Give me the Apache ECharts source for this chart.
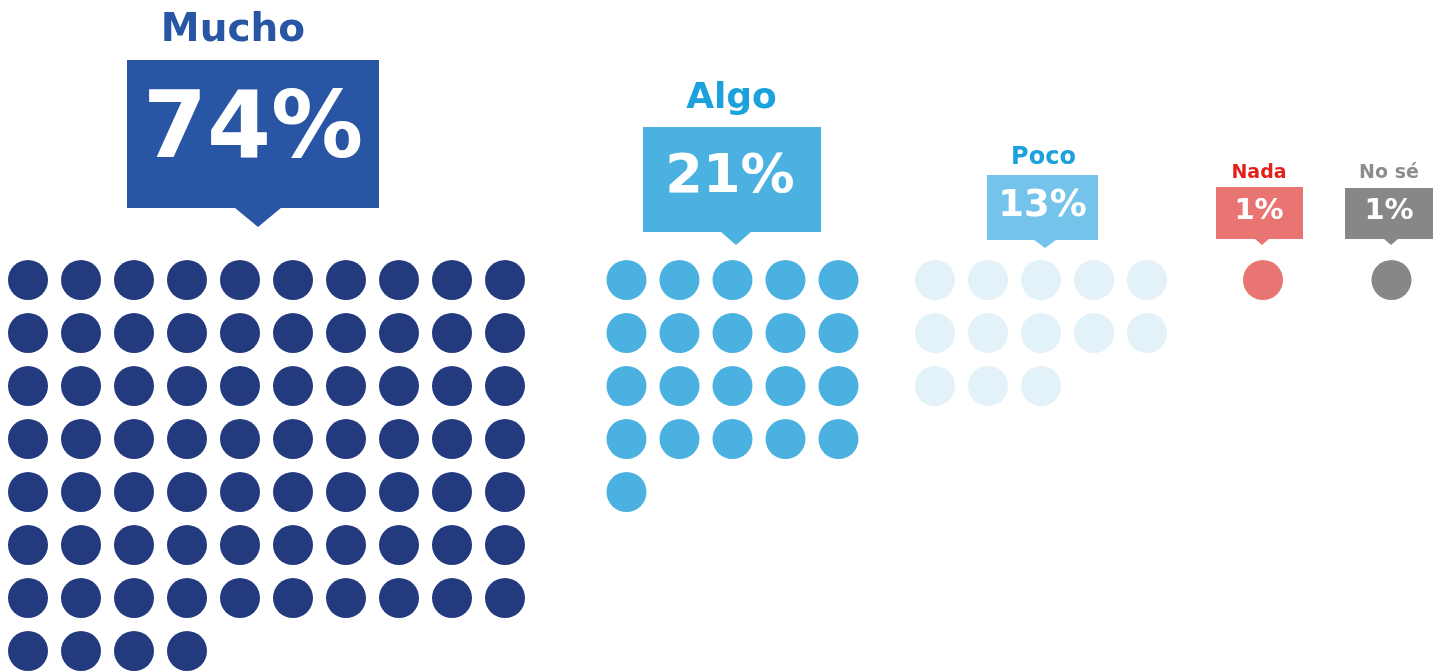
<!DOCTYPE html>
<html>
<head>
<meta charset="utf-8">
<script src="https://cdn.jsdelivr.net/npm/echarts@6/dist/echarts.min.js"></script>
<style>
html,body{margin:0;padding:0;background:#fff;}
#chart{width:1439px;height:671px;}
</style>
</head>
<body>
<div id="chart"></div>
<script>
// ---- data ----
const categories = ['Mucho', 'Algo', 'Poco', 'Nada', 'No sé'];
const percentLabels = ['74%', '21%', '13%', '1%', '1%'];
const dotCounts = [74, 21, 13, 1, 1];

// ---- layout & style (pixel units on the axes) ----
const dotCols = [10, 5, 5, 1, 1];
const dotStartX = [28, 626.5, 935, 1263, 1391.5];
const dotStartY = 280;
const dotStep = 53;
const dotSize = 40;
const dotColors = ['#233A7F', '#4AB1E0', '#E3F1F9', '#E97573', '#878787'];
const boxColors = ['#2856A4', '#4AB1E0', '#73C3EA', '#E97573', '#878787'];
const titleColors = ['#2856A4', '#1BA1DC', '#1BA1DC', '#E3211C', '#8C8C8C'];
// box: [x0, x1, y0, y1, tipX, tipY, halfBase]
const boxGeom = [
  [127, 379, 60, 208, 258, 227, 23.5],
  [643, 821, 127, 232, 736, 245, 15.5],
  [987, 1098, 175, 240, 1045, 248, 11.5],
  [1216, 1303, 187, 239, 1262, 245, 7.5],
  [1345, 1433, 188, 239, 1391, 245, 7.5]
];
// title: [centerX, capMiddleY, fontSize]; percent: [centerX, capMiddleY, fontSize]
const titleGeom = [[233, 29, 39], [731.5, 96.5, 36], [1043.5, 157, 24], [1259, 172, 19], [1389, 172, 19]];
const pctGeom = [[253, 128, 92], [730, 175, 54], [1042.5, 205, 37], [1259, 210, 29], [1389, 210, 29]];

const FONT = '"DejaVu Sans", sans-serif';

const series = [];
categories.forEach((c, k) => {
  const pts = [];
  for (let i = 0; i < dotCounts[k]; i++) {
    pts.push([dotStartX[k] + (i % dotCols[k]) * dotStep, dotStartY + Math.floor(i / dotCols[k]) * dotStep]);
  }
  series.push({
    type: 'scatter', name: c, data: pts, symbol: 'circle', symbolSize: dotSize,
    itemStyle: { color: dotColors[k], opacity: 1 }, silent: true, animation: false
  });
});

series.push({
  type: 'custom', name: 'labels', animation: false, silent: true,
  data: categories.map((c, k) => [boxGeom[k][4], boxGeom[k][5], k]),
  renderItem: function (params, api) {
    const k = api.value(2);
    const g = boxGeom[k];
    const p0 = api.coord([g[0], g[2]]);
    const p1 = api.coord([g[1], g[3]]);
    const tip = api.coord([g[4], g[5]]);
    const t = titleGeom[k], p = pctGeom[k];
    const tc = api.coord([t[0], t[1]]);
    const pc = api.coord([p[0], p[1]]);
    return {
      type: 'group',
      children: [
        { type: 'rect', shape: { x: p0[0], y: p0[1], width: p1[0] - p0[0], height: p1[1] - p0[1] }, style: { fill: boxColors[k] } },
        { type: 'polygon', shape: { points: [[tip[0] - g[6], p1[1] - 0.5], [tip[0] + g[6], p1[1] - 0.5], [tip[0], tip[1]]] }, style: { fill: boxColors[k] } },
        { type: 'text', x: tc[0], y: tc[1] + t[2] * 0.05, style: { text: categories[k], fill: titleColors[k], font: 'bold ' + t[2] + 'px ' + FONT, align: 'center', verticalAlign: 'middle' } },
        { type: 'text', x: pc[0], y: pc[1] + p[2] * 0.05, style: { text: percentLabels[k], fill: '#ffffff', font: 'bold ' + p[2] + 'px ' + FONT, align: 'center', verticalAlign: 'middle' } }
      ]
    };
  }
});

const chart = echarts.init(document.getElementById('chart'), null, { renderer: 'canvas' });
chart.setOption({
  animation: false,
  backgroundColor: '#ffffff',
  grid: { left: 0, right: 0, top: 0, bottom: 0 },
  xAxis: { type: 'value', min: 0, max: 1439, show: false },
  yAxis: { type: 'value', min: 0, max: 671, inverse: true, show: false },
  series: series
});
</script>
</body>
</html>
